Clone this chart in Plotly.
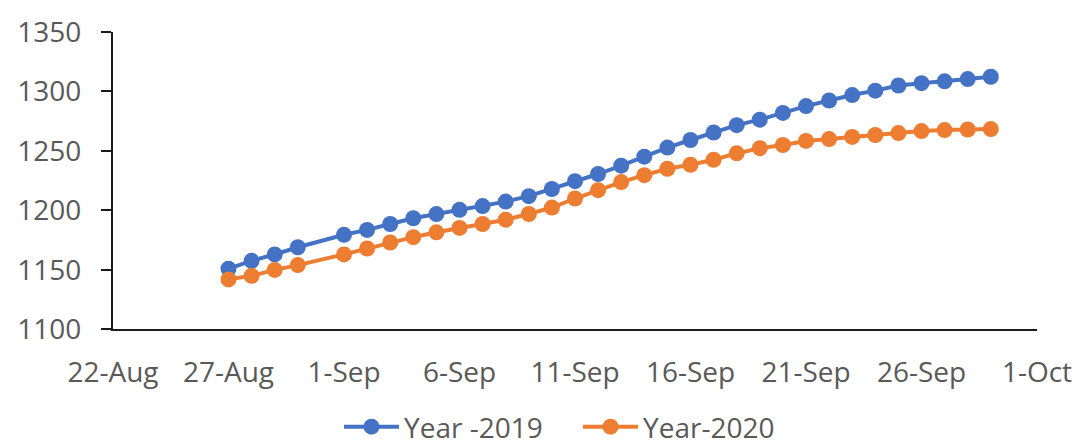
import plotly.graph_objects as go

# Observation dates (day-month); a fixed year is used only for the date axis
dates = [
    "2020-08-27", "2020-08-28", "2020-08-29", "2020-08-30",
    "2020-09-01", "2020-09-02", "2020-09-03", "2020-09-04", "2020-09-05",
    "2020-09-06", "2020-09-07", "2020-09-08", "2020-09-09", "2020-09-10",
    "2020-09-11", "2020-09-12", "2020-09-13", "2020-09-14", "2020-09-15",
    "2020-09-16", "2020-09-17", "2020-09-18", "2020-09-19", "2020-09-20",
    "2020-09-21", "2020-09-22", "2020-09-23", "2020-09-24", "2020-09-25",
    "2020-09-26", "2020-09-27", "2020-09-28", "2020-09-29",
]

year_2019 = [
    1151, 1157.6, 1163, 1169,
    1179.5, 1183.6, 1188.6, 1193.4, 1196.9,
    1200.5, 1203.6, 1207.4, 1212, 1218,
    1224.6, 1230.6, 1237.6, 1245.2, 1252.8,
    1259.2, 1265.5, 1271.7, 1276.3, 1282,
    1287.7, 1292.4, 1297, 1300.7, 1305,
    1307, 1308.5, 1310.4, 1312.4,
]

year_2020 = [
    1142, 1145, 1150, 1154,
    1163, 1168, 1173, 1177.5, 1181.6,
    1185.3, 1188.6, 1192.2, 1197, 1202.4,
    1210, 1217, 1223.8, 1229.6, 1235,
    1238.4, 1242.6, 1248, 1252.3, 1255,
    1258.4, 1260, 1261.8, 1263.4, 1265,
    1266.7, 1267.5, 1268, 1268.4,
]

series_names = ["Year -2019", "Year-2020"]
series_colors = ["#4472C4", "#ED7D31"]

y_ticks = [1100, 1150, 1200, 1250, 1300, 1350]
x_range = ["2020-08-22", "2020-10-01"]

FONT = "Open Sans"
TEXT_COLOR = "#595959"
AXIS_COLOR = "#1a1a1a"
FONT_SIZE = 28

fig = go.Figure()
for name, values, color in zip(series_names, [year_2019, year_2020], series_colors):
    fig.add_trace(go.Scatter(
        x=dates, y=values, name=name, mode="lines+markers",
        line=dict(color=color, width=4),
        marker=dict(color=color, size=16, line=dict(width=0)),
    ))

fig.update_layout(
    width=1089, height=448,
    margin=dict(l=113, r=52, t=29, b=118),
    paper_bgcolor="white", plot_bgcolor="white",
    font=dict(family=FONT, size=FONT_SIZE, color=TEXT_COLOR),
    showlegend=True,
    legend=dict(
        orientation="h",
        xref="container", x=339 / 1089, xanchor="left",
        yref="container", y=0.047, yanchor="middle",
        font=dict(family=FONT, size=FONT_SIZE, color=TEXT_COLOR),
        itemwidth=55, entrywidth=169, entrywidthmode="pixels",
        tracegroupgap=0,
    ),
)

fig.update_xaxes(
    type="date", range=x_range,
    tick0="2020-08-22", dtick=5 * 86400000,
    tickformat="%-d-%b",
    showgrid=False, zeroline=False,
    showline=True, linecolor=AXIS_COLOR, linewidth=2,
    ticks="", ticklabelstandoff=17,
    tickfont=dict(family=FONT, size=FONT_SIZE, color=TEXT_COLOR),
)

fig.update_yaxes(
    range=[1100, 1350], tickvals=y_ticks,
    showgrid=False, zeroline=False,
    showline=True, linecolor=AXIS_COLOR, linewidth=2,
    ticks="outside", ticklen=10, tickwidth=2, tickcolor=AXIS_COLOR,
    ticklabelstandoff=14,
    tickfont=dict(family=FONT, size=FONT_SIZE, color=TEXT_COLOR),
)

fig.write_html("out.html")
